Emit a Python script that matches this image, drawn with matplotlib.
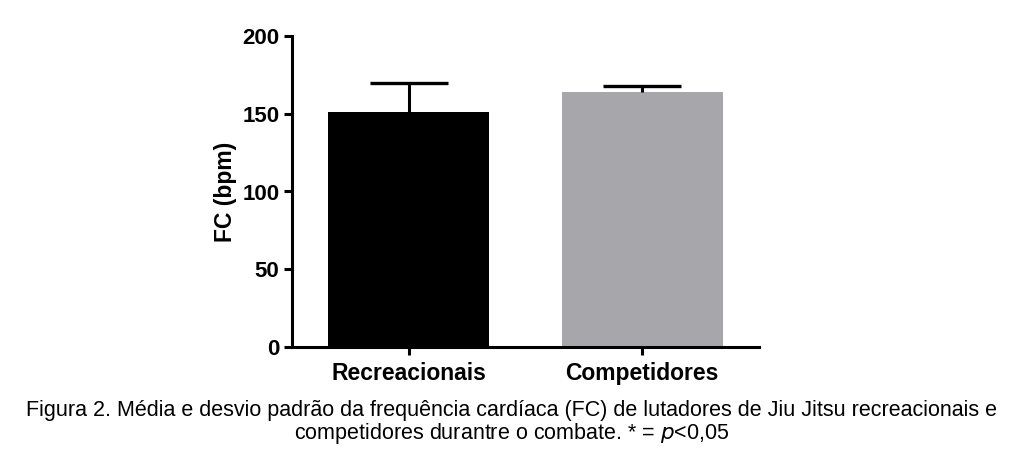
import matplotlib
matplotlib.use("Agg")
import matplotlib.pyplot as plt

categories = ["Recreacionais", "Competidores"]
means = [151.3, 163.8]
sds = [18.2, 4.0]
colors = ["#000000", "#a7a7ab"]
yticks = [0, 50, 100, 150, 200]
ylabel = "FC (bpm)"
caption_l1 = "Figura 2. Média e desvio padrão da frequência cardíaca (FC) de lutadores de Jiu Jitsu recreacionais e"
caption_l2 = "competidores durantre o combate. * = $\\mathit{p}$<0,05"

plt.rcParams['font.family'] = ['Liberation Sans', 'DejaVu Sans']
fig = plt.figure(figsize=(10.24, 4.61), dpi=100)
ax = fig.add_axes([292/1024, 1-347/461, (759-292)/1024, (347-36)/461])

x = list(range(len(categories)))
ax.bar(x, means, width=0.69, color=colors, zorder=2)
_, caplines, _ = ax.errorbar(x, means, yerr=[[0]*len(sds), sds], fmt='none', ecolor='black',
                             elinewidth=2.2, capsize=28, capthick=2.4, zorder=3)
# keep only the upper caps (GraphPad-style one-sided SD bars)
if len(caplines) == 2:
    caplines[0].set_visible(False)

ax.set_xlim(-0.5, 1.5)
ax.set_ylim(0, 200)
ax.set_yticks(yticks)
ax.set_xticks(x)
ax.set_xticklabels(categories, fontsize=16.5, fontweight='bold')
for lab in ax.get_yticklabels():
    lab.set_fontsize(16)
    lab.set_fontweight('bold')
ax.set_ylabel(ylabel, fontsize=16.5, fontweight='bold', labelpad=4)
for s in ['top', 'right']:
    ax.spines[s].set_visible(False)
for s in ['left', 'bottom']:
    ax.spines[s].set_linewidth(2.2)
ax.tick_params(axis='both', width=2.2, length=6, pad=3)
ax.tick_params(axis='x', pad=5)

fig.text(0.5, 1-410/461, caption_l1, ha='center', va='center', fontsize=15.5)
fig.text(0.5, 1-433/461, caption_l2, ha='center', va='center', fontsize=15.5)

fig.savefig("out.png", dpi=100)
